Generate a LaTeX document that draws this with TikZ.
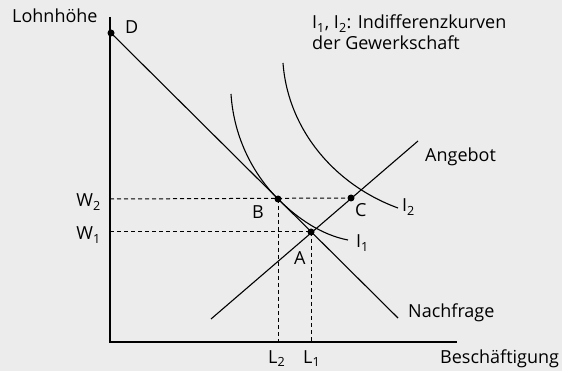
\documentclass[tikz,border=0pt]{standalone}
\usepackage{fontspec}
\setmainfont{Open Sans}
\usetikzlibrary{positioning,calc}
\definecolor{chartbg}{HTML}{ECECEC}
\tikzset{
  axis/.style={line width=1.5pt},
  curve/.style={line width=1.1pt},
  guide/.style={line width=1pt, dash pattern=on 4pt off 3pt},
  dot/.style={circle, fill, inner sep=0pt, minimum size=7pt},
  lbl/.style={inner sep=0pt, font=\fontsize{18}{21}\selectfont},
}
\newcommand{\idx}[1]{\textsubscript{#1}}

\begin{document}
\begin{tikzpicture}[x=1pt, y=-1pt]
    \fill[chartbg] (0,0) rectangle (562,371);
    \useasboundingbox (0,0) rectangle (562,371);
    % axes
    \coordinate (O) at (110,342);
    \coordinate (ytop) at (110,17);
    \coordinate (xend) at (457,342);
    \draw[axis] (ytop) -- (O) -- (xend);
    \node[lbl, anchor=base west] (ylab) at (12,23) {Lohnhöhe};
    \node[lbl, anchor=base west] (xlab) at (440,363) {Beschäftigung};
    % Nachfrage und Angebot
    \node[dot] (D) at (111,33) {};
    \coordinate (dend) at (398,318);
    \coordinate (sbeg) at (211,319);
    \coordinate (send) at (418,141);
    \draw[curve] (D.center) -- (dend);
    \draw[curve] (sbeg) -- (send);
    \node[lbl, anchor=base west] (dlab) at (125,34) {D};
    \node[lbl, anchor=base west] (nlab) at (408,317) {Nachfrage};
    \node[lbl, anchor=base west] (alab) at (425,162) {Angebot};
    % Punkte
    \node[dot] (A) at (311,232) {};
    \node[dot] (B) at (278,199) {};
    \node[dot] (C) at (351,198) {};
    \node[lbl, anchor=base west] (Alab) at (294,265) {A};
    \node[lbl, anchor=base west] (Blab) at (252,219) {B};
    \node[lbl, anchor=base west] (Clab) at (355,217) {C};
    % Hilfslinien
    \draw[guide] (B.center -| O) -- (C.center);
    \draw[guide] (A.center -| O) -- (A.center);
    \draw[guide] (B.center) -- (B.center |- O);
    \draw[guide] (A.center) -- (A.center |- O);
    \node[lbl, anchor=base east] (w2) at (101,207) {W\idx{2}};
    \node[lbl, anchor=base east] (w1) at (101,240) {W\idx{1}};
    \node[lbl, anchor=base west] (l2) at (268,363) {L\idx{2}};
    \node[lbl, anchor=base west] (l1) at (303,363) {L\idx{1}};
    % Indifferenzkurven
    \coordinate (i1beg) at (231,94);
    \coordinate (i1end) at (348,240);
    \coordinate (i2beg) at (283,63);
    \coordinate (i2end) at (398,208);
    \draw[curve] (i1beg) .. controls (234,140) and (255,176) .. (B.center)
                         .. controls (298,219) and (322,235) .. (i1end);
    \draw[curve] (i2beg) .. controls (288,130) and (335,185) .. (i2end);
    \node[lbl, anchor=base west] (i1lab) at (356,248) {I\idx{1}};
    \node[lbl, anchor=base west] (i2lab) at (402,212) {I\idx{2}};
    \node[lbl, anchor=base west, align=left] (note) at (312,50)
      {I\idx{1}, I\idx{2}: Indifferenzkurven\\der Gewerkschaft};
  \end{tikzpicture}
\end{document}
